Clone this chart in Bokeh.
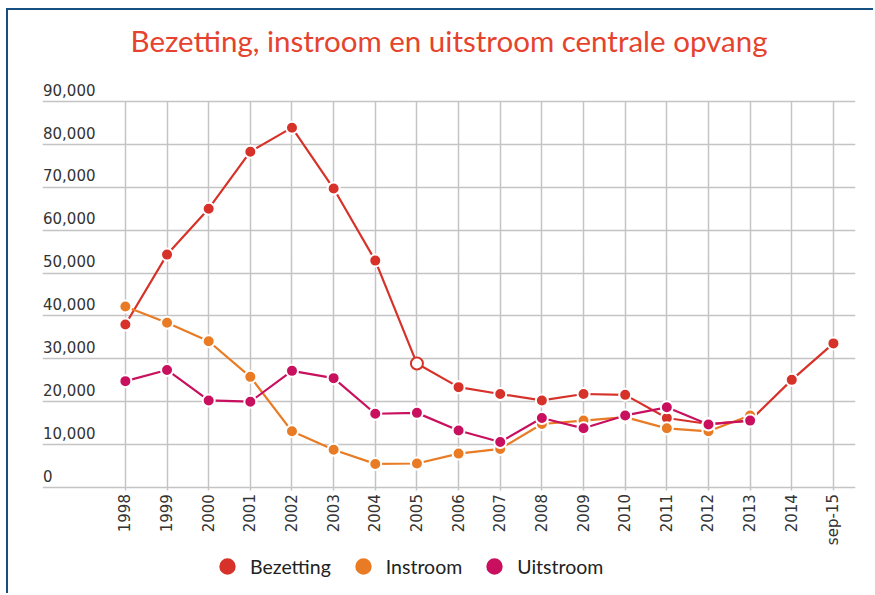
import math
from bokeh.plotting import figure
from bokeh.models import (ColumnDataSource, FixedTicker, Legend, LegendItem, Range1d, Title)
from bokeh.embed import file_html
from bokeh.resources import INLINE

# ---- data ----
years = ["1998", "1999", "2000", "2001", "2002", "2003", "2004", "2005", "2006",
         "2007", "2008", "2009", "2010", "2011", "2012", "2013", "2014", "sep-15"]
bezetting = [38000, 54300, 65000, 78300, 83900, 69700, 52900, 28900, 23400,
             21800, 20300, 21800, 21600, 16200, 14800, 15600, 25100, 33600]
instroom = [42200, 38400, 34100, 25800, 13100, 8800, 5500, 5600, 7900,
            9000, 14800, 15600, 16400, 13800, 13100, 16800, None, None]
uitstroom = [24800, 27400, 20300, 20000, 27200, 25500, 17200, 17400, 13300,
             10600, 16200, 13800, 16800, 18700, 14700, 15600, None, None]
y_ticks = [0, 10000, 20000, 30000, 40000, 50000, 60000, 70000, 80000, 90000]
hollow_year = "2005"
title_text = "Bezetting, instroom en uitstroom centrale opvang"

RED = "#D7322A"
ORANGE = "#E87B24"
MAGENTA = "#C8105F"
GRID = "#C4C4C4"
TXT = "#333333"
FRAME = "#165080"

xs = list(range(len(years)))

def nan(v):
    return float("nan") if v is None else v

# frame holds the y labels, the x labels and the legend as well
FRAME_TOP, FRAME_BOTTOM = 68, 583
Y0, Y1 = -24715, 95363
px_per_unit = (FRAME_BOTTOM - FRAME_TOP) / (Y1 - Y0)
axis_at = -600                   # x axis sits just under the zero line

p = figure(width=867, height=585, output_backend="svg", toolbar_location=None,
           x_range=Range1d(-1.99, 17.53), y_range=Range1d(Y0, Y1),
           min_border_left=34, min_border_right=20, min_border_top=FRAME_TOP,
           min_border_bottom=585 - FRAME_BOTTOM, title=None)
p.outline_line_color = None
p.background_fill_color = "white"
p.border_fill_color = "white"
p.styles = {"margin-left": "6px", "margin-top": "8px",
            "border-left": f"2px solid {FRAME}", "border-top": f"2px solid {FRAME}"}

# spacer between frame and title, then the title itself
p.add_layout(Title(text=" ", text_font_size="16px", standoff=2,
                   text_color="white"), "above")
p.add_layout(Title(text=title_text, text_font="Lato", text_font_size="29.5px",
                   text_font_style="normal", text_color="#E5432D",
                   align="center", standoff=0), "above")

# x axis, fixed inside the frame; its ticks draw the vertical grid lines
p.xgrid.visible = False
p.xaxis.ticker = FixedTicker(ticks=xs)
p.xaxis.fixed_location = axis_at
p.xaxis.level = "underlay"
p.xaxis.major_label_overrides = {i: y for i, y in enumerate(years)}
p.xaxis.major_label_orientation = math.pi / 2
p.xaxis.axis_line_color = None
p.xaxis.major_tick_line_color = GRID
p.xaxis.major_tick_line_width = 1.5
p.xaxis.major_tick_in = int(round((90000 - axis_at) * px_per_unit))
p.xaxis.major_tick_out = 0
p.xaxis.minor_tick_line_color = None
p.xaxis.major_label_standoff = 4
p.xaxis.major_label_text_font = "DejaVu Sans"
p.xaxis.major_label_text_font_size = "15px"
p.xaxis.major_label_text_color = TXT

# y axis: labels sit inside the plot, just above each grid line
def ylab(v):
    s = f"{v:,}"
    if len(s) < 6:
        s = s + "\u2007" * 4 + "\u2008"
    return s + "\n\u2007"

p.yaxis.ticker = FixedTicker(ticks=y_ticks)
p.yaxis.major_label_overrides = {v: ylab(v) for v in y_ticks}
p.yaxis.fixed_location = -1.99
p.yaxis.axis_line_color = None
p.yaxis.major_tick_line_color = None
p.yaxis.minor_tick_line_color = None
p.yaxis.major_tick_out = 0
p.yaxis.major_tick_in = 0
p.yaxis.major_label_standoff = -53
p.yaxis.major_label_text_font = "DejaVu Sans"
p.yaxis.major_label_text_font_size = "15px"
p.yaxis.major_label_text_color = TXT

p.ygrid.ticker = FixedTicker(ticks=y_ticks)
p.ygrid.grid_line_color = GRID
p.ygrid.grid_line_width = 1.5

def series(vals, color, hollow=None):
    fills = [color] * len(vals)
    lines = ["white"] * len(vals)
    if hollow is not None:
        i = years.index(hollow)
        fills[i] = "white"
        lines[i] = color
    src = ColumnDataSource(dict(x=xs, y=[nan(v) for v in vals], fill=fills, lc=lines))
    p.line("x", "y", source=src, line_color=color, line_width=2.2)
    return p.scatter("x", "y", source=src, size=12, fill_color="fill",
                     line_color="lc", line_width=2)

r_b = series(bezetting, RED, hollow_year)
r_i = series(instroom, ORANGE)
r_u = series(uitstroom, MAGENTA)

legend = Legend(items=[LegendItem(label="Bezetting", renderers=[r_b]),
                       LegendItem(label="Instroom", renderers=[r_i]),
                       LegendItem(label="Uitstroom", renderers=[r_u])],
                orientation="horizontal", location=(162, 4),
                glyph_width=46, glyph_height=46, label_standoff=0, spacing=9,
                padding=0, margin=0, border_line_color=None,
                background_fill_alpha=0,
                label_text_font="Lato", label_text_font_size="19.5px",
                label_text_color="#222222")
p.add_layout(legend, "center")

open("out.html", "w").write(file_html(p, INLINE))
